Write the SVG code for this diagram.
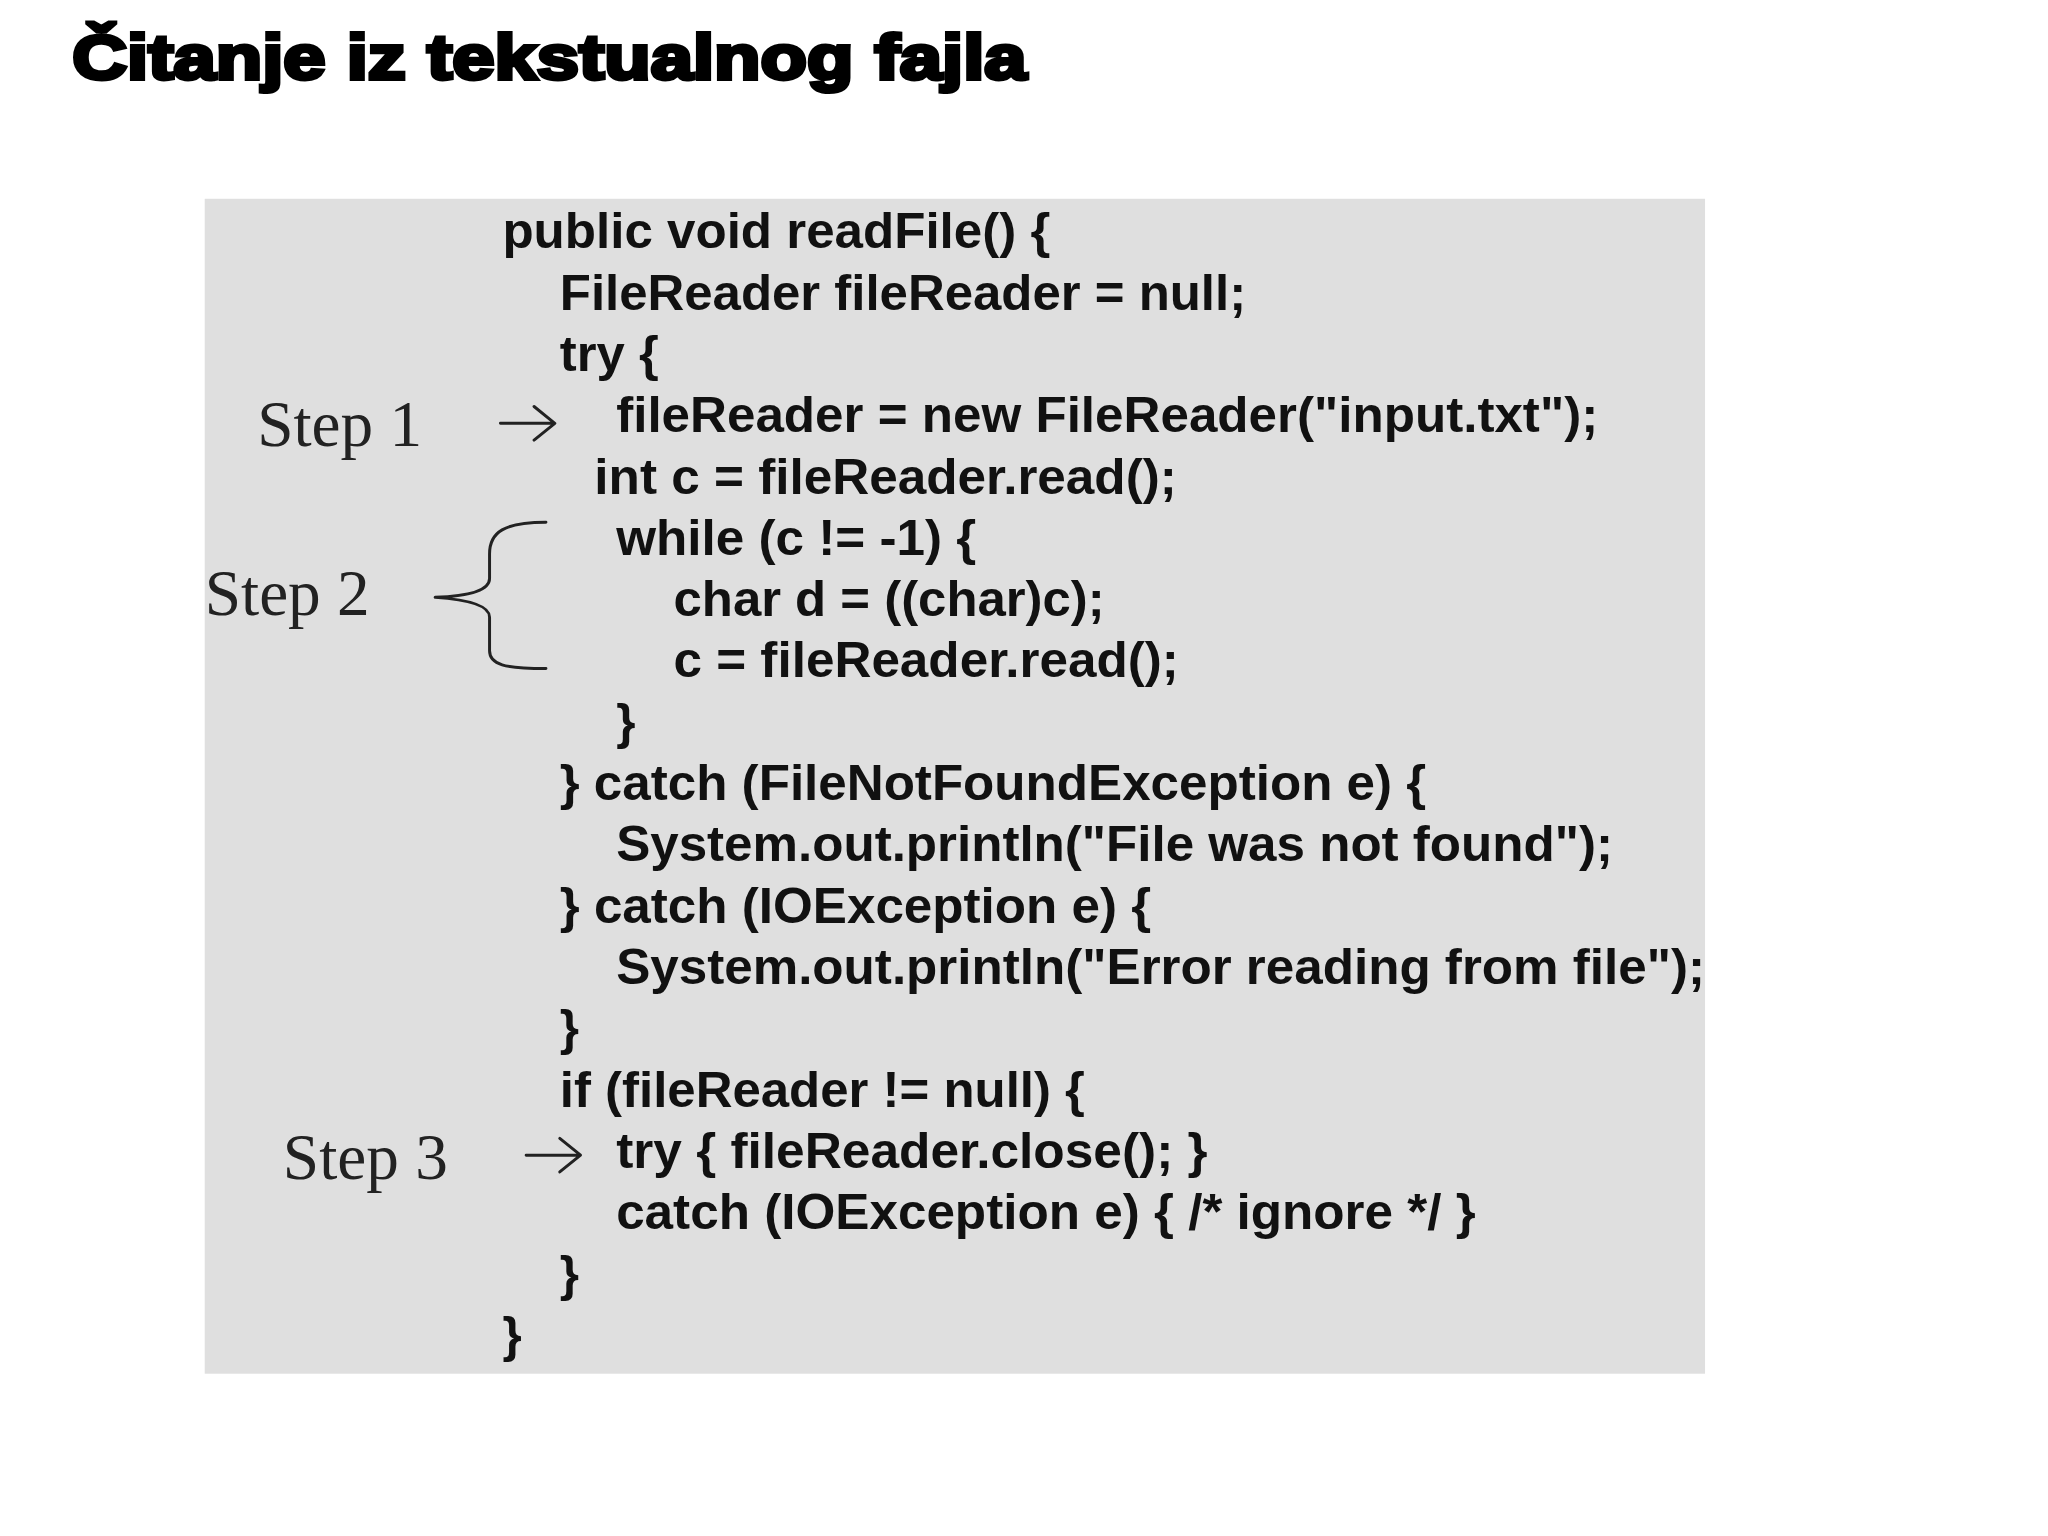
<svg xmlns="http://www.w3.org/2000/svg" width="2048" height="1536" viewBox="0 0 2048 1536">
<style>
.c{font-family:"Liberation Sans",Arial,sans-serif;font-size:50px;font-weight:bold;fill:#111}
.s{font-family:"Liberation Serif","Times New Roman",serif;font-size:66px;fill:#222}
.ln{fill:none;stroke:#222;stroke-width:3;stroke-linecap:round;stroke-linejoin:round}
</style>
<rect width="2048" height="1536" fill="#fff"/>
<g transform="scale(0.989)">
<text x="73" y="80" font-family="Liberation Sans,Arial,sans-serif" font-weight="bold" font-size="64" stroke="#000" stroke-width="4" fill="#000" textLength="965" lengthAdjust="spacingAndGlyphs">Čitanje iz tekstualnog fajla</text>
<g id="code">
<rect x="207" y="201" width="1517" height="1188" fill="#dfdfdf"/>
<text class="c" x="508" y="251" textLength="554" lengthAdjust="spacingAndGlyphs">public void readFile() {</text>
<text class="c" x="566" y="313" textLength="694" lengthAdjust="spacingAndGlyphs">FileReader fileReader = null;</text>
<text class="c" x="566" y="375" textLength="100" lengthAdjust="spacingAndGlyphs">try {</text>
<text class="c" x="623" y="437" textLength="993" lengthAdjust="spacingAndGlyphs">fileReader = new FileReader("input.txt");</text>
<text class="c" x="601" y="499" textLength="589" lengthAdjust="spacingAndGlyphs">int c = fileReader.read();</text>
<text class="c" x="623" y="561" textLength="364" lengthAdjust="spacingAndGlyphs">while (c != -1) {</text>
<text class="c" x="681" y="623" textLength="436" lengthAdjust="spacingAndGlyphs">char d = ((char)c);</text>
<text class="c" x="681" y="685" textLength="511" lengthAdjust="spacingAndGlyphs">c = fileReader.read();</text>
<text class="c" x="623" y="747">}</text>
<text class="c" x="566" y="809" textLength="876" lengthAdjust="spacingAndGlyphs">} catch (FileNotFoundException e) {</text>
<text class="c" x="623" y="871" textLength="1008" lengthAdjust="spacingAndGlyphs">System.out.println("File was not found");</text>
<text class="c" x="566" y="933" textLength="598" lengthAdjust="spacingAndGlyphs">} catch (IOException e) {</text>
<text class="c" x="623" y="995" textLength="1101" lengthAdjust="spacingAndGlyphs">System.out.println("Error reading from file");</text>
<text class="c" x="566" y="1057">}</text>
<text class="c" x="566" y="1119" textLength="531" lengthAdjust="spacingAndGlyphs">if (fileReader != null) {</text>
<text class="c" x="623" y="1181" textLength="598" lengthAdjust="spacingAndGlyphs">try { fileReader.close(); }</text>
<text class="c" x="623" y="1243" textLength="869" lengthAdjust="spacingAndGlyphs">catch (IOException e) { /* ignore */ }</text>
<text class="c" x="566" y="1305">}</text>
<text class="c" x="508" y="1367">}</text>
</g>
<g id="step1">
<text class="s" x="260" y="451">Step 1</text>
</g>
<g id="step2">
<text class="s" x="207" y="622">Step 2</text>
</g>
<g id="step3">
<text class="s" x="286" y="1192">Step 3</text>
</g>
<g id="connectors">
<path class="ln" d="M506 428 H559 M540 411 L561 428 L540 445"/>
<path class="ln" d="M532 1168 H585 M566 1151 L587 1168 L566 1185"/>
<path class="ln" d="M552 528 C510 528 495 538 495 560 L495 585 C495 598 470 603 440 604 C470 606 495 611 495 624 L495 658 C495 672 510 676 552 676"/>
</g>
</g>
</svg>
